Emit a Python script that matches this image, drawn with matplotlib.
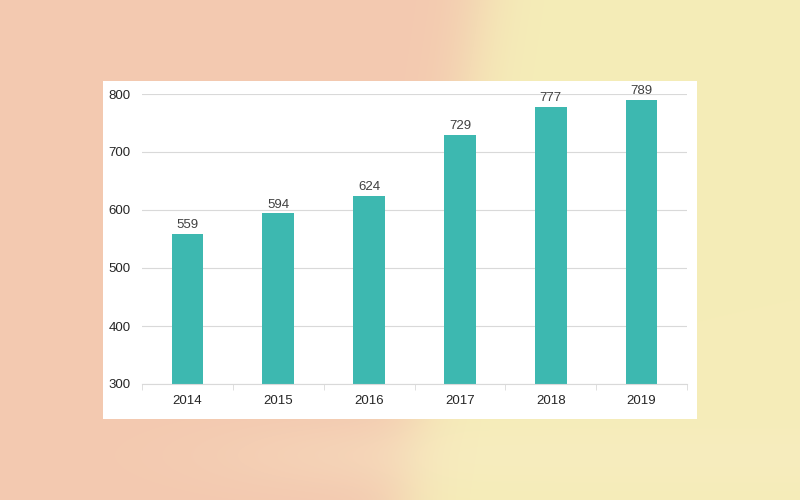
import numpy as np
import matplotlib.pyplot as plt
from matplotlib.patches import Rectangle

plt.rcParams['font.family'] = ['Liberation Sans', 'DejaVu Sans']

# data
years = ['2014', '2015', '2016', '2017', '2018', '2019']
values = [559, 594, 624, 729, 777, 789]
yticks = [300, 400, 500, 600, 700, 800]

fig = plt.figure(figsize=(8, 5), dpi=100)

# blurred peach / yellow background
bg = fig.add_axes([0, 0, 1, 1], zorder=-10)
w, h = 800, 500
xx, yy = np.meshgrid(np.arange(w), np.arange(h))
edge = 480 - 0.15 * yy
t = 1 / (1 + np.exp(-(xx - edge) / 18.0))
peach = np.array([243, 201, 176]) / 255
yellow = np.array([245, 237, 184]) / 255
img = peach[None, None, :] * (1 - t[..., None]) + yellow[None, None, :] * t[..., None]
# lighter band near the bottom, fading in from the left
band = np.exp(-((yy - 455) / 35.0) ** 2) * 0.35 / (1 + np.exp(-(xx - 260) / 60.0))
light = np.array([250, 236, 200]) / 255
img = img * (1 - band[..., None]) + light[None, None, :] * band[..., None]
bg.imshow(img, extent=[0, 1, 0, 1], aspect='auto')
bg.set_axis_off()

# white card
fig.patches.append(Rectangle((103 / 800, 1 - 419 / 500), 594 / 800, 338 / 500,
                             transform=fig.transFigure, facecolor='white',
                             edgecolor='none', zorder=-5))

ax = fig.add_axes([142 / 800, 1 - 384 / 500, 545 / 800, 290 / 500])
ax.set_facecolor('none')
x = np.arange(len(years))
bars = ax.bar(x, values, width=0.35, color='#3db8b0', zorder=3)
for xi, v in zip(x, values):
    ax.text(xi, v + 5, str(v), ha='center', va='bottom', fontsize=9.5, color='#404040')

ax.set_ylim(300, 800)
ax.set_xlim(-0.5, len(years) - 0.5)
ax.set_yticks(yticks)
ax.set_yticklabels([str(v) for v in yticks], fontsize=9.5, color='#262626')
ax.set_xticks(x)
ax.set_xticklabels(years, fontsize=9.5, color='#262626')
ax.tick_params(axis='x', length=0, pad=8)
ax.tick_params(axis='y', length=0, pad=8)
ax.set_xticks(np.arange(-0.5, len(years)), minor=True)
ax.tick_params(axis='x', which='minor', length=4, color='#d9d9d9')
ax.grid(axis='y', color='#d9d9d9', linewidth=0.8, zorder=0)
for s in ['top', 'right', 'left']:
    ax.spines[s].set_visible(False)
ax.spines['bottom'].set_color('#d9d9d9')
ax.spines['bottom'].set_zorder(4)

fig.savefig('out.png', dpi=100)
